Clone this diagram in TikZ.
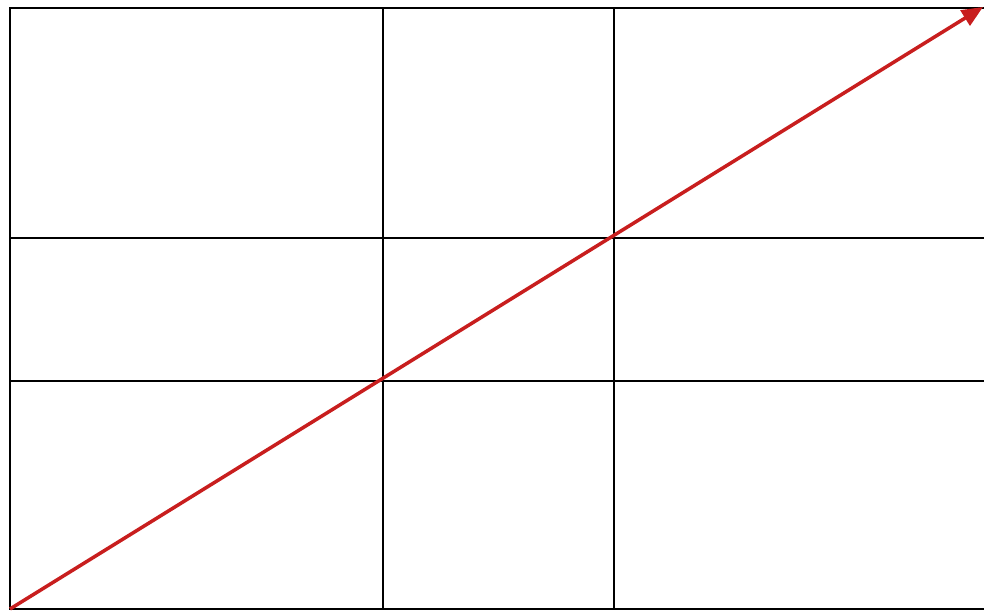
\documentclass[tikz,border=0pt]{standalone}
\usepackage{tikz}
\usetikzlibrary{arrows.meta, calc}

\definecolor{linered}{RGB}{200,30,30}

\begin{document}
\begin{tikzpicture}[
    gridline/.style={black, line width=0.8pt},
    diagline/.style={linered, line width=1pt, -{Triangle[length=6pt, width=5pt]}}
  ]

  % --- Canvas ---
  \useasboundingbox (0,0) rectangle (9.84,6.12);

  % --- Frame (right side runs off the page) ---
  \draw[gridline] (9.84,6.04) -- (0.10,6.04) -- (0.10,0.03) -- (9.84,0.03);

  % --- Inner grid lines ---
  \foreach \x in {3.83, 6.14}{
    \draw[gridline] (\x,0.03) -- (\x,6.04);
  }
  \foreach \y in {2.31, 3.74}{
    \draw[gridline] (0.10,\y) -- (9.84,\y);
  }

  % --- Diagonal through the two crossings ---
  \coordinate (start) at (0.10,0.03);
  \coordinate (tip) at (9.83,6.05);
  \draw[diagline] (start) -- (tip);

\end{tikzpicture}
\end{document}
